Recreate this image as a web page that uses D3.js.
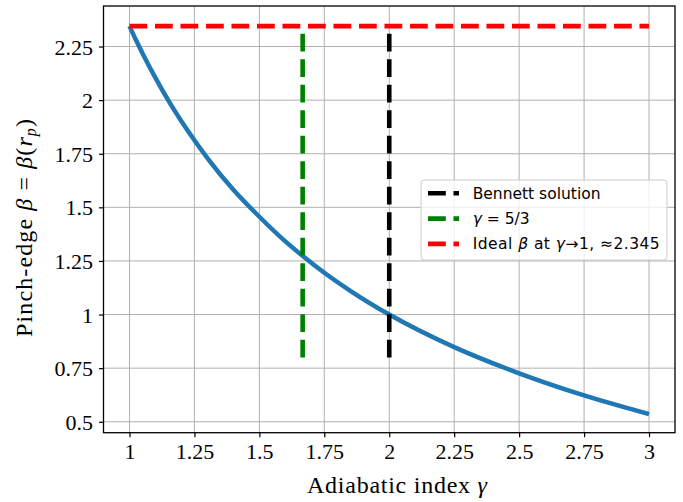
<!DOCTYPE html>
<html>
<head>
<meta charset="utf-8">
<script src="https://cdn.jsdelivr.net/npm/d3@7"></script>
<style>
  body { margin: 0; background: #fff; }
  svg { display: block; }
</style>
</head>
<body>
<div id="chart"></div>
<script>
// values
var gammaVals = [1.0, 1.025, 1.05, 1.1, 1.15, 1.2, 1.25, 1.3, 1.4, 1.5, 1.6, 1.667, 1.75, 1.85, 2.0, 2.25, 2.5, 2.75, 3.0];
var betaVals  = [2.345, 2.28, 2.219, 2.104, 1.998, 1.902, 1.813, 1.73, 1.582, 1.456, 1.341, 1.273, 1.195, 1.111, 1.0, 0.848, 0.726, 0.623, 0.536];
var xTicks = [1, 1.25, 1.5, 1.75, 2, 2.25, 2.5, 2.75, 3];
var yTicks = [0.5, 0.75, 1, 1.25, 1.5, 1.75, 2, 2.25];
var betaIdeal = 2.345;
var gammaAdiabatic = 5 / 3;
var gammaBennett = 2;
var vLineBottom = 0.8;

var svgWidth = 683;
var svgHeight = 502;
// plot box edges in pixels
var box = { left: 103.5, right: 675, top: 6, bottom: 432.7 };

var svg = d3.select("#chart")
  .append("svg")
  .attr("width", svgWidth)
  .attr("height", svgHeight);

var x = d3.scaleLinear().domain([0.9, 3.1]).range([box.left, box.right]);
var y = d3.scaleLinear().domain([0.449, 2.439]).range([box.bottom, box.top]);

var serif = "'Liberation Serif', 'Times New Roman', serif";
var sans = "'DejaVu Sans', sans-serif";

// grid
svg.append("g").selectAll("line")
  .data(xTicks).enter().append("line")
  .attr("x1", d => x(d)).attr("x2", d => x(d))
  .attr("y1", box.top).attr("y2", box.bottom)
  .attr("stroke", "#b0b0b0").attr("stroke-width", 1);
svg.append("g").selectAll("line")
  .data(yTicks).enter().append("line")
  .attr("y1", d => y(d)).attr("y2", d => y(d))
  .attr("x1", box.left).attr("x2", box.right)
  .attr("stroke", "#b0b0b0").attr("stroke-width", 1);

// axes
var xAxis = d3.axisBottom(x).tickValues(xTicks).tickSize(4.5).tickPadding(6)
  .tickFormat(d3.format("~g"));
var yAxis = d3.axisLeft(y).tickValues(yTicks).tickSize(4.5).tickPadding(6)
  .tickFormat(d3.format("~g"));

var gx = svg.append("g").attr("transform", "translate(0," + box.bottom + ")").call(xAxis);
var gy = svg.append("g").attr("transform", "translate(" + box.left + ",0)").call(yAxis);
[gx, gy].forEach(function(g) {
  g.select(".domain").remove();
  g.selectAll(".tick line").attr("stroke", "#000").attr("stroke-width", 1.2);
  g.selectAll(".tick text").attr("fill", "#000")
    .style("font-family", serif).style("font-size", "22px");
});
gx.selectAll(".tick text").attr("dy", "0.71em");
gy.selectAll(".tick text").attr("dy", "0.34em");

// data lines
var line = d3.line()
  .x(d => x(d[0]))
  .y(d => y(d[1]))
  .curve(d3.curveMonotoneX);

svg.append("path")
  .datum(d3.zip(gammaVals, betaVals))
  .attr("d", line)
  .attr("fill", "none")
  .attr("stroke", "#1f77b4")
  .attr("stroke-width", 4.5);

var dash = "17.8,7.7";
var straight = d3.line().x(d => x(d[0])).y(d => y(d[1]));

svg.append("path")
  .datum([[gammaBennett, vLineBottom], [gammaBennett, betaIdeal]])
  .attr("d", straight)
  .attr("stroke", "#000").attr("stroke-width", 4.6)
  .attr("stroke-dasharray", dash).attr("fill", "none");

svg.append("path")
  .datum([[gammaAdiabatic, vLineBottom], [gammaAdiabatic, betaIdeal]])
  .attr("d", straight)
  .attr("stroke", "#008000").attr("stroke-width", 4.6)
  .attr("stroke-dasharray", dash).attr("fill", "none");

svg.append("path")
  .datum([[1, betaIdeal], [3, betaIdeal]])
  .attr("d", straight)
  .attr("stroke", "#ff0000").attr("stroke-width", 4.6)
  .attr("stroke-dasharray", dash).attr("fill", "none");

// frame
svg.append("rect")
  .attr("x", box.left).attr("y", box.top)
  .attr("width", box.right - box.left).attr("height", box.bottom - box.top)
  .attr("fill", "none").attr("stroke", "#000").attr("stroke-width", 1.3);

// axis labels
var xl = svg.append("text")
  .attr("x", 397).attr("y", 493)
  .attr("text-anchor", "middle")
  .attr("textLength", 180).attr("lengthAdjust", "spacing")
  .style("font-family", serif).style("font-size", "24px");
xl.append("tspan").text("Adiabatic index ");
xl.append("tspan").attr("font-style", "italic").text("γ");

var yl = svg.append("text")
  .attr("transform", "translate(32,228) rotate(-90)")
  .attr("text-anchor", "middle")
  .attr("textLength", 218).attr("lengthAdjust", "spacing")
  .style("font-family", serif).style("font-size", "24px");
yl.append("tspan").text("Pinch-edge ");
yl.append("tspan").attr("font-style", "italic").text("β");
yl.append("tspan").text(" = ");
yl.append("tspan").attr("font-style", "italic").text("β");
yl.append("tspan").text("(");
yl.append("tspan").attr("font-style", "italic").text("r");
yl.append("tspan").attr("font-style", "italic").attr("font-size", "16px").attr("dy", 4).text("p");
yl.append("tspan").attr("dy", -4).text(")");

// legend
var legendNames = ["Bennett solution", "γ = 5/3", "Ideal β at γ→1, ≈2.345"];
var legendColors = ["#000", "#008000", "#ff0000"];
var lg = svg.append("g");
lg.append("rect")
  .attr("x", 421).attr("y", 180).attr("width", 246).attr("height", 80)
  .attr("rx", 3).attr("fill", "#fff").attr("fill-opacity", 0.8)
  .attr("stroke", "#cccccc").attr("stroke-width", 1);

var rows = lg.selectAll("g.row").data(legendNames).enter().append("g")
  .attr("transform", (d, i) => "translate(0," + (193.3 + i * 25.3) + ")");
rows.append("line")
  .attr("x1", 428).attr("x2", 459).attr("y1", 0).attr("y2", 0)
  .attr("stroke", (d, i) => legendColors[i]).attr("stroke-width", 4.6)
  .attr("stroke-dasharray", dash);

var lt = rows.append("text")
  .attr("x", 472.7).attr("y", 5.5)
  .style("font-family", sans).style("font-size", "15.5px").attr("fill", "#000");
lt.each(function(d, i) {
  var t = d3.select(this);
  if (i === 0) {
    t.append("tspan").text(d);
  } else if (i === 1) {
    t.append("tspan").attr("font-style", "italic").text("γ");
    t.append("tspan").text(" = 5/3");
  } else {
    t.attr("textLength", 187).attr("lengthAdjust", "spacing");
    t.append("tspan").text("Ideal ");
    t.append("tspan").attr("font-style", "italic").text("β");
    t.append("tspan").text(" at ");
    t.append("tspan").attr("font-style", "italic").text("γ");
    t.append("tspan").text("→1, ≈2.345");
  }
});
</script>
</body>
</html>
